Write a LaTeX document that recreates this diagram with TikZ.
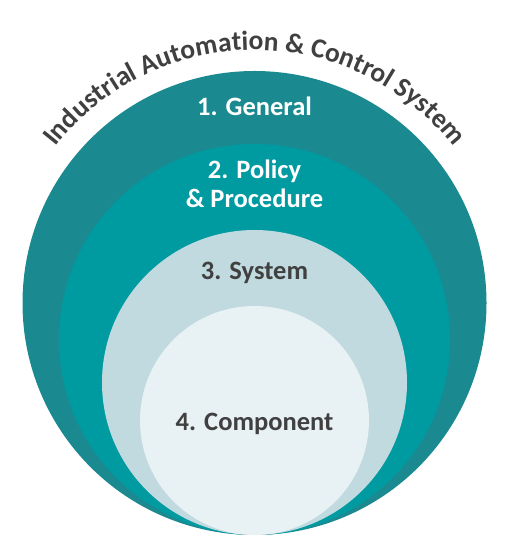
\documentclass[tikz,border=0pt]{standalone}
\usepackage{fontspec}
\setmainfont{Carlito}
\usetikzlibrary{decorations.text}
\definecolor{ringone}{HTML}{1A8A90}
\definecolor{ringtwo}{HTML}{009AA1}
\definecolor{ringthree}{HTML}{C0DADF}
\definecolor{ringfour}{HTML}{E8F1F4}
\definecolor{inkgray}{HTML}{404040}
\newcommand{\ringlabel}[4]{\node[font=\fontsize{26.5}{29}\selectfont\bfseries, text=#3, anchor=base, inner sep=0pt] (#1) at (254.5,#2) {#4};}

\begin{document}
\begin{tikzpicture}[x=1pt,y=1pt]
        \useasboundingbox (0,0) rectangle (510,559);
        %rings
        \fill[ringone] (254.5,256) circle (232);
        \fill[ringtwo] (254.5,219.5) circle (195.5);
        \fill[ringthree] (254.5,176.5) circle (152.5);
        \fill[ringfour] (254.5,138.5) circle (114.5);

        %title along the outer ring
        \coordinate (hub) at (254.5,256);
        \path[decorate, decoration={text along path, text align=center,
            text={|\fontsize{27.5}{30}\selectfont\bfseries\color{inkgray}|Industrial Automation {\&} Control System}}]
            (hub) ++(170:253) arc[start angle=170, end angle=10, radius=253];

        %labels
        \ringlabel{general}{443}{white}{1. General}
        \ringlabel{policy}{380}{white}{2. Policy}
        \ringlabel{procedure}{351}{white}{\& Procedure}
        \ringlabel{system}{279}{inkgray}{3. System}
        \ringlabel{component}{128}{inkgray}{4. Component}
\end{tikzpicture}
\end{document}
